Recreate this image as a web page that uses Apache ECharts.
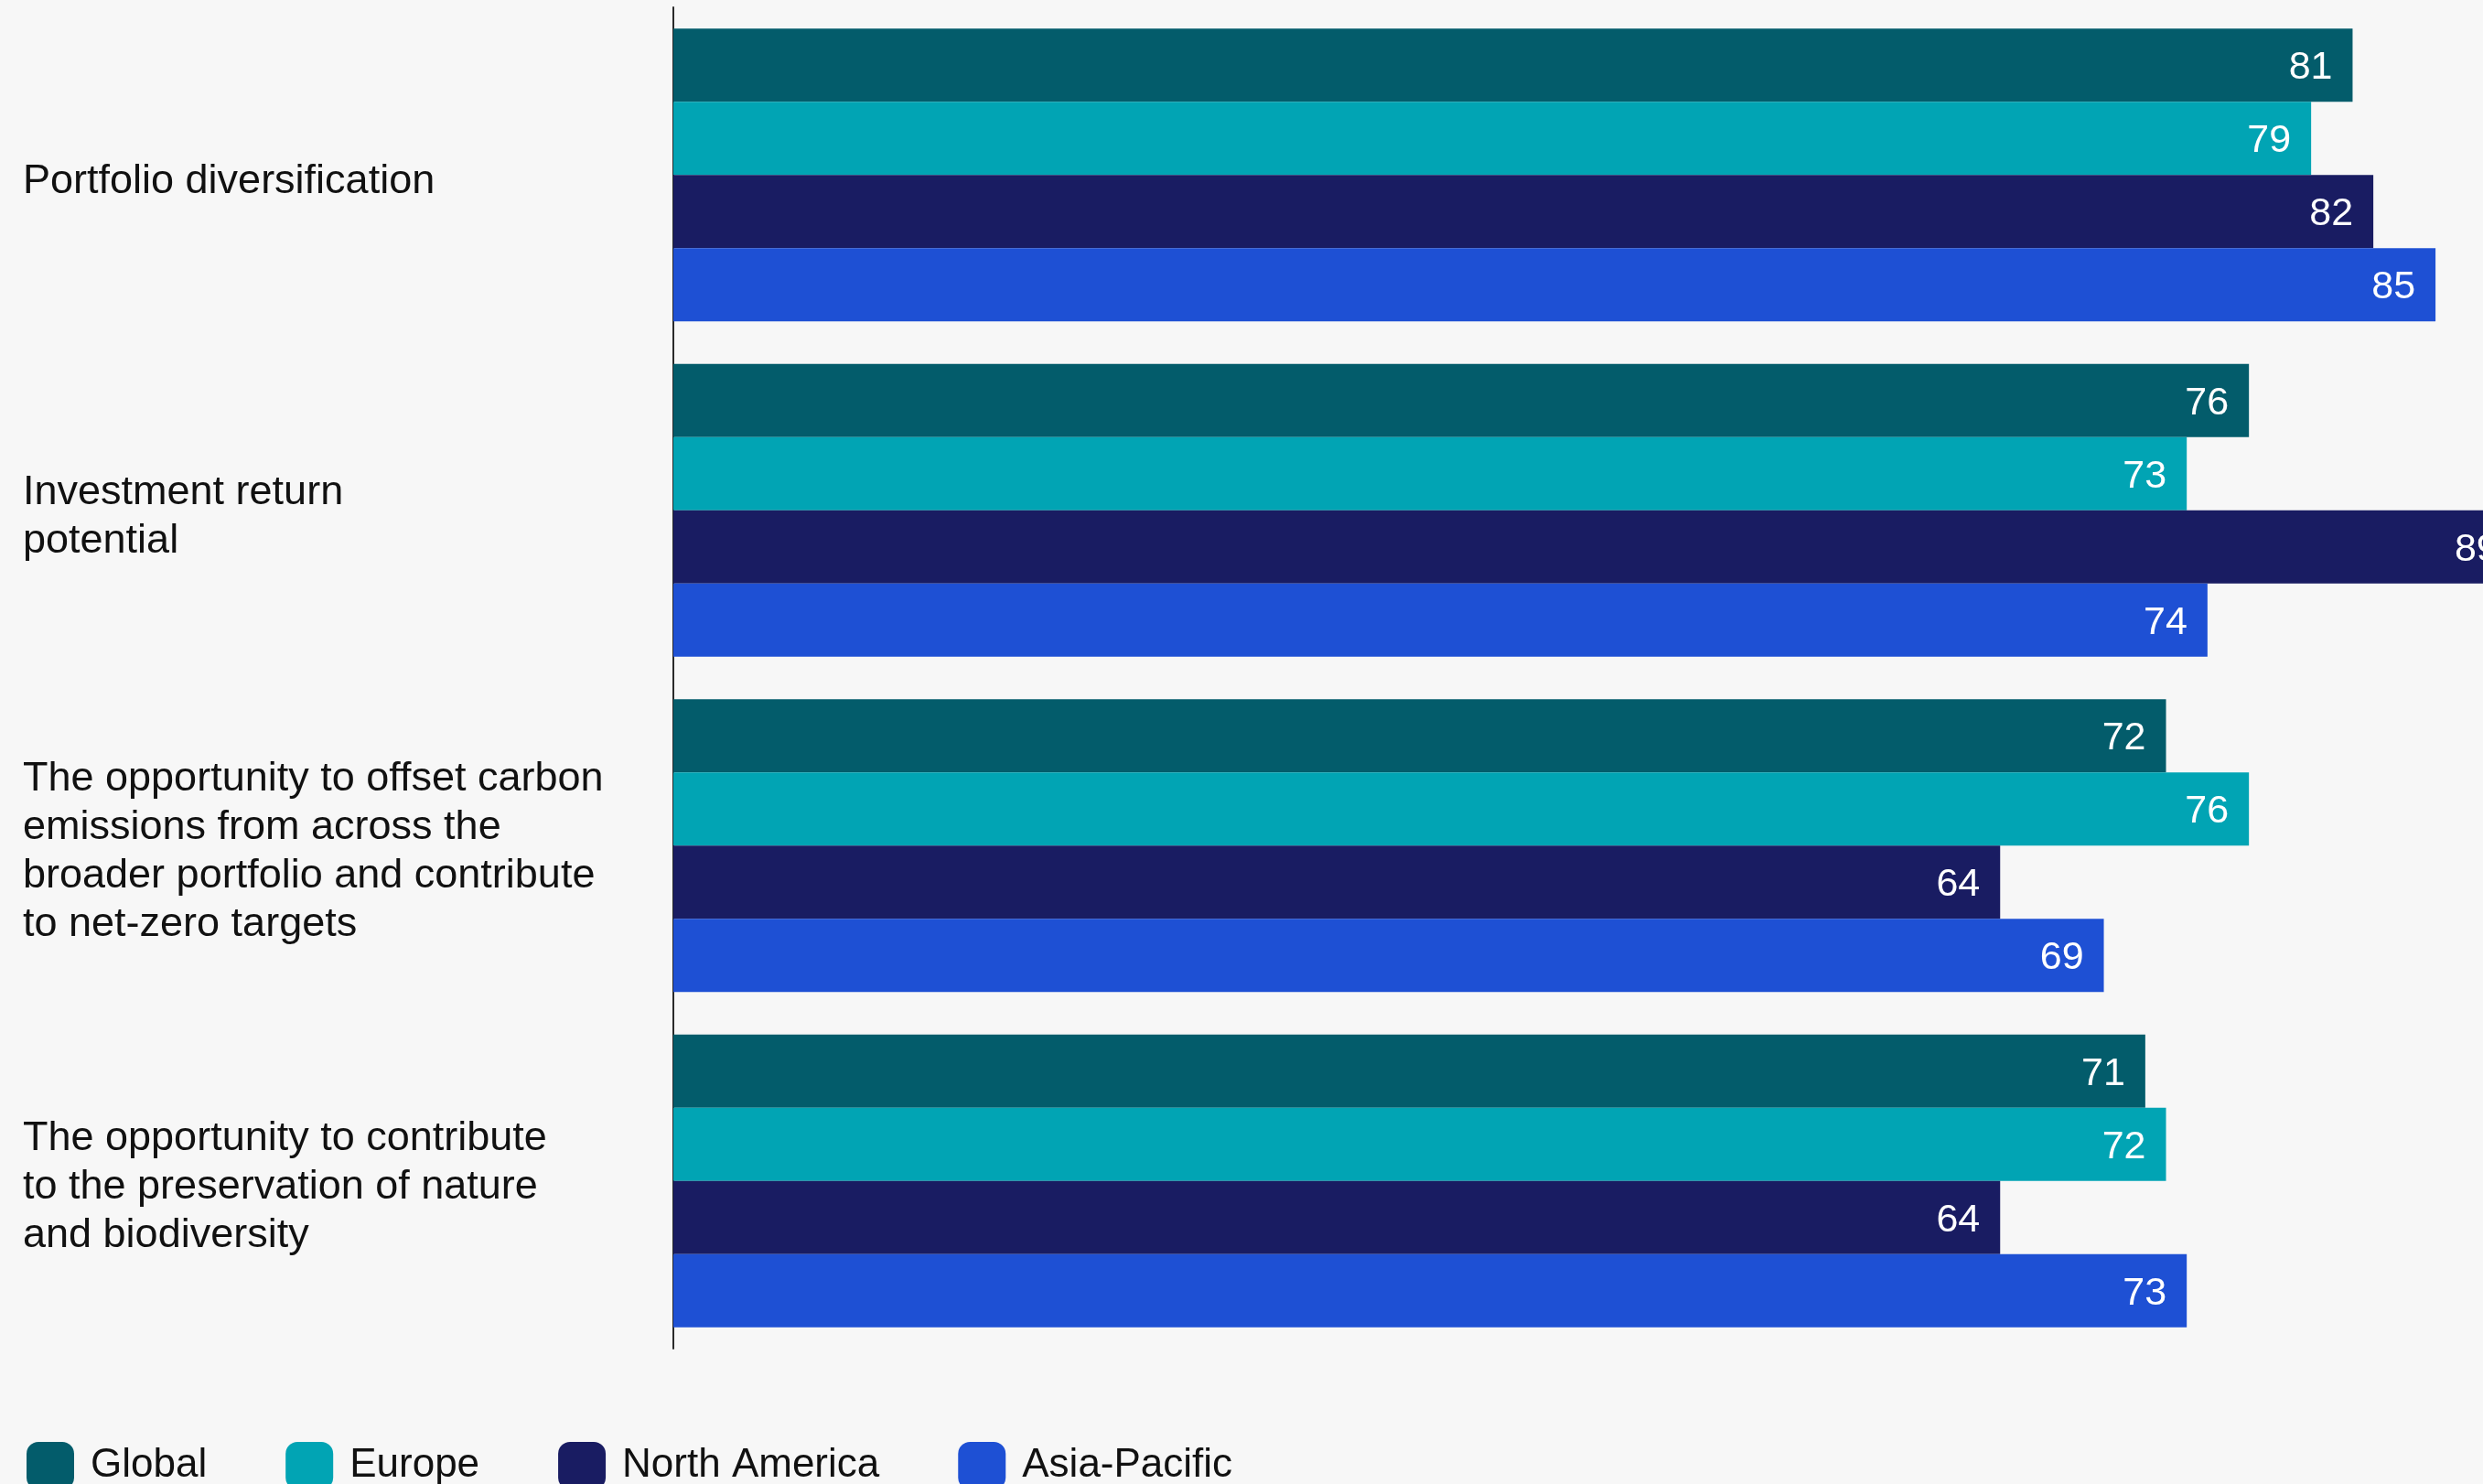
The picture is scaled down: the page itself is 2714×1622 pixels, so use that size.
<!DOCTYPE html>
<html>
<head>
<meta charset="utf-8">
<style>
  html, body { margin: 0; padding: 0; background: #f7f7f7; }
  #chart { width: 2714px; height: 1622px; }
</style>
<script src="https://cdn.jsdelivr.net/npm/echarts@6/dist/echarts.min.js"></script>
</head>
<body>
<div id="chart"></div>
<script>
// Reasons for investing, by region (% of respondents)
const categories = [
  'Portfolio diversification',
  'Investment return\npotential',
  'The opportunity to offset carbon\nemissions from across the\nbroader portfolio and contribute\nto net-zero targets',
  'The opportunity to contribute\nto the preservation of nature\nand biodiversity'
];
const regions = ['Global', 'Europe', 'North America', 'Asia-Pacific'];
const globalValues = [81, 76, 72, 71];
const europeValues = [79, 73, 76, 72];
const northAmericaValues = [82, 89, 64, 64];
const asiaPacificValues = [85, 74, 69, 73];

const seriesValues = [globalValues, europeValues, northAmericaValues, asiaPacificValues];
const colors = ['#035c6b', '#01a4b4', '#191c62', '#1e50d4'];
const font = '"Liberation Sans", Arial, sans-serif';

const chart = echarts.init(document.getElementById('chart'));
chart.setOption({
  backgroundColor: '#f7f7f7',
  animation: false,
  // the value scale runs past the right edge of the canvas, so the longest bar is cut off
  grid: { left: 736, top: 8, width: 2266, height: 1466, outerBoundsMode: 'none', containLabel: false },
  xAxis: {
    type: 'value', min: 0, max: 100,
    axisLine: { show: false }, axisTick: { show: false },
    axisLabel: { show: false }, splitLine: { show: false }
  },
  yAxis: {
    type: 'category',
    inverse: true,
    data: categories,
    axisLine: { show: true, lineStyle: { color: '#2a2a2a', width: 2 } },
    axisTick: { show: false },
    axisLabel: {
      align: 'left',
      margin: 711,
      color: '#111111',
      fontFamily: font,
      fontSize: 45,
      lineHeight: 53,
      // a short empty spacer line nudges each label block slightly below the group centre
      formatter: (v) => '{gap|}\n' + v,
      rich: { gap: { height: 14, lineHeight: 14 } }
    }
  },
  legend: {
    left: 24, top: 1571,
    itemWidth: 52, itemHeight: 52, itemGap: 86,
    icon: 'roundRect',
    data: regions,
    textStyle: { fontFamily: font, fontSize: 44, color: '#111111', padding: [0, 0, 0, 13] }
  },
  series: regions.map((name, i) => ({
    name: name,
    type: 'bar',
    data: seriesValues[i],
    barWidth: 80,
    barGap: '0%',
    itemStyle: { color: colors[i] },
    label: {
      show: true,
      position: 'insideRight',
      distance: 22,
      offset: [0, 3],
      color: '#ffffff',
      fontFamily: font,
      fontSize: 43
    }
  }))
});
</script>
</body>
</html>
